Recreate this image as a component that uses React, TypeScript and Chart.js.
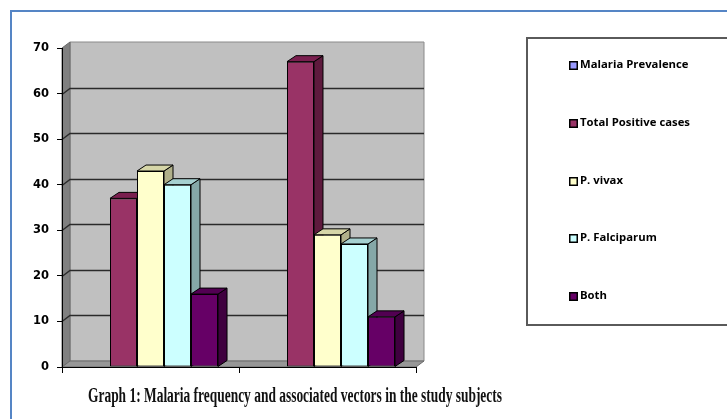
import React, { useEffect, useRef } from "react";
import { Chart, registerables } from "chart.js";

Chart.register(...registerables);

// ---- Data ----
const categories = ["Group 1", "Group 2"];
const seriesNames = ["Malaria Prevalence", "Total Positive cases", "P. vivax", "P. Falciparum", "Both"];
const malariaPrevalence: (number | null)[] = [null, null];
const totalPositive = [37, 67];
const pVivax = [43, 29];
const pFalciparum = [40, 27];
const both = [16, 11];
const yTicks = [0, 10, 20, 30, 40, 50, 60, 70];
const titleText = "Graph 1: Malaria frequency and associated vectors in the study subjects";

// ---- Styles ----
const frontColors = ["#9999FF", "#993366", "#FFFFCC", "#CCFFFF", "#660066"];
const topColors = ["#7a7acc", "#7a1f4f", "#d6d6a8", "#a6d0d0", "#520052"];
const sideColors = ["#5c5c99", "#5e1a3d", "#b0b08a", "#85a8a8", "#3f003f"];

const WALL_DX = 8;
const WALL_DY = -6;
const BAR_DX = 9;
const BAR_DY = -6;

function poly(ctx: CanvasRenderingContext2D, pts: number[][], fill: string, stroke?: string, lw = 1) {
  ctx.beginPath();
  ctx.moveTo(pts[0][0], pts[0][1]);
  for (let i = 1; i < pts.length; i++) ctx.lineTo(pts[i][0], pts[i][1]);
  ctx.closePath();
  ctx.fillStyle = fill;
  ctx.fill();
  if (stroke) {
    ctx.strokeStyle = stroke;
    ctx.lineWidth = lw;
    ctx.stroke();
  }
}

const wallsPlugin = {
  id: "walls3d",
  beforeDraw(chart: any) {
    const { ctx, chartArea } = chart;
    const { left, right, top, bottom } = chartArea;
    const y = chart.scales.y;
    ctx.save();
    poly(ctx, [
      [left + WALL_DX, top + WALL_DY],
      [right + WALL_DX, top + WALL_DY],
      [right + WALL_DX, bottom + WALL_DY],
      [left + WALL_DX, bottom + WALL_DY],
    ], "#C0C0C0", "#8a8a8a");
    poly(ctx, [
      [left, top],
      [left + WALL_DX, top + WALL_DY],
      [left + WALL_DX, bottom + WALL_DY],
      [left, bottom],
    ], "#808080", "#6a6a6a");
    poly(ctx, [
      [left, bottom],
      [left + WALL_DX, bottom + WALL_DY],
      [right + WALL_DX, bottom + WALL_DY],
      [right, bottom],
    ], "#979797", "#6a6a6a");
    ctx.strokeStyle = "#2a2a2a";
    ctx.lineWidth = 1.4;
    yTicks.forEach((v) => {
      if (v === yTicks[0] || v === yTicks[yTicks.length - 1]) return;
      const py = Math.round(y.getPixelForValue(v)) + 0.5;
      ctx.beginPath();
      ctx.moveTo(left, py);
      ctx.lineTo(left + WALL_DX, py + WALL_DY);
      ctx.lineTo(right + WALL_DX, py + WALL_DY);
      ctx.stroke();
    });
    ctx.restore();
  },
  beforeDatasetsDraw(chart: any) {
    const { ctx } = chart;
    ctx.save();
    const n = chart.data.labels.length;
    for (let c = 0; c < n; c++) {
      chart.data.datasets.forEach((ds: any, di: number) => {
        const v = ds.data[c];
        if (v === null || v === undefined) return;
        const el = chart.getDatasetMeta(di).data[c] as any;
        const l = el.x - el.width / 2;
        const r = el.x + el.width / 2;
        const t = el.y;
        const b = el.base;
        poly(ctx, [[r, t], [r + BAR_DX, t + BAR_DY], [r + BAR_DX, b + BAR_DY], [r, b]], sideColors[di], "#000", 1);
        poly(ctx, [[l, t], [l + BAR_DX, t + BAR_DY], [r + BAR_DX, t + BAR_DY], [r, t]], topColors[di], "#000", 1);
      });
    }
    ctx.restore();
  },
  afterDraw(chart: any) {
    const { ctx } = chart;
    ctx.save();
    ctx.strokeStyle = "#5585c5";
    ctx.lineWidth = 2;
    ctx.beginPath();
    ctx.moveTo(11, 430);
    ctx.lineTo(11, 11);
    ctx.lineTo(740, 11);
    ctx.stroke();

    const bx = 527, byTop = 38, byBot = 325;
    ctx.strokeStyle = "#5a5a5a";
    ctx.lineWidth = 2;
    ctx.beginPath();
    ctx.moveTo(740, byTop);
    ctx.lineTo(bx, byTop);
    ctx.lineTo(bx, byBot);
    ctx.lineTo(740, byBot);
    ctx.stroke();

    ctx.font = "bold 11px 'Open Sans'";
    const ref = ctx.measureText("Total Positive cases").width;
    const ls = 110 / ref;
    ctx.textBaseline = "middle";
    ctx.textAlign = "left";
    seriesNames.forEach((name, i) => {
      const cy = 65 + i * 57.75;
      const sx = 569;
      ctx.fillStyle = "#000";
      ctx.fillRect(sx, Math.round(cy - 4), 9, 9);
      ctx.fillStyle = frontColors[i];
      ctx.fillRect(sx + 1.5, Math.round(cy - 4) + 1.5, 6, 6);
      ctx.save();
      ctx.translate(580, cy);
      ctx.scale(ls, 1);
      ctx.fillStyle = "#000";
      ctx.fillText(name, 0, 0);
      ctx.restore();
    });

    ctx.font = "bold 20px 'Liberation Serif'";
    const w = ctx.measureText(titleText).width;
    const s = 414 / w;
    ctx.translate(295, 397);
    ctx.scale(s, 1);
    ctx.textAlign = "center";
    ctx.textBaseline = "middle";
    ctx.fillStyle = "#111";
    ctx.fillText(titleText, 0, 0);
    ctx.restore();
  },
};

export default function App() {
  const ref = useRef<HTMLCanvasElement | null>(null);
  useEffect(() => {
    if (!ref.current) return;
    const values = [malariaPrevalence, totalPositive, pVivax, pFalciparum, both];
    const chart = new Chart(ref.current, {
      type: "bar",
      data: {
        labels: categories,
        datasets: seriesNames.map((name, i) => ({
          label: name,
          data: values[i],
          backgroundColor: frontColors[i],
          borderColor: "#000",
          borderWidth: 1,
          borderSkipped: false,
          categoryPercentage: 0.763,
          barPercentage: 1,
        })),
      },
      options: {
        responsive: false,
        animation: false,
        layout: { padding: { top: 48, right: 311, left: 0, bottom: 0 } },
        plugins: {
          legend: { display: false },
          tooltip: { enabled: false },
          title: { display: false },
        },
        scales: {
          x: {
            ticks: { display: false },
            grid: { drawOnChartArea: false, tickLength: 6, color: "#000", offset: true },
            border: { color: "#000" },
            afterFit: (s: any) => { s.height = 52; },
          },
          y: {
            min: 0,
            max: 70,
            afterBuildTicks: (s: any) => { s.ticks = yTicks.map((v) => ({ value: v })); },
            ticks: {
              font: { family: "DejaVu Sans", weight: "bold", size: 11.5 },
              color: "#000",
              padding: 8,
            },
            grid: { drawOnChartArea: false, tickLength: 5, color: "#000" },
            border: { color: "#000" },
            afterFit: (s: any) => { s.width = 62; },
          },
        },
      },
      plugins: [wallsPlugin],
    });
    return () => chart.destroy();
  }, []);
  return (
    <div style={{ position: "absolute", left: 0, top: 0, width: 727, height: 419, background: "#fff" }}>
      <canvas ref={ref} width={727} height={419} style={{ display: "block" }} />
    </div>
  );
}
